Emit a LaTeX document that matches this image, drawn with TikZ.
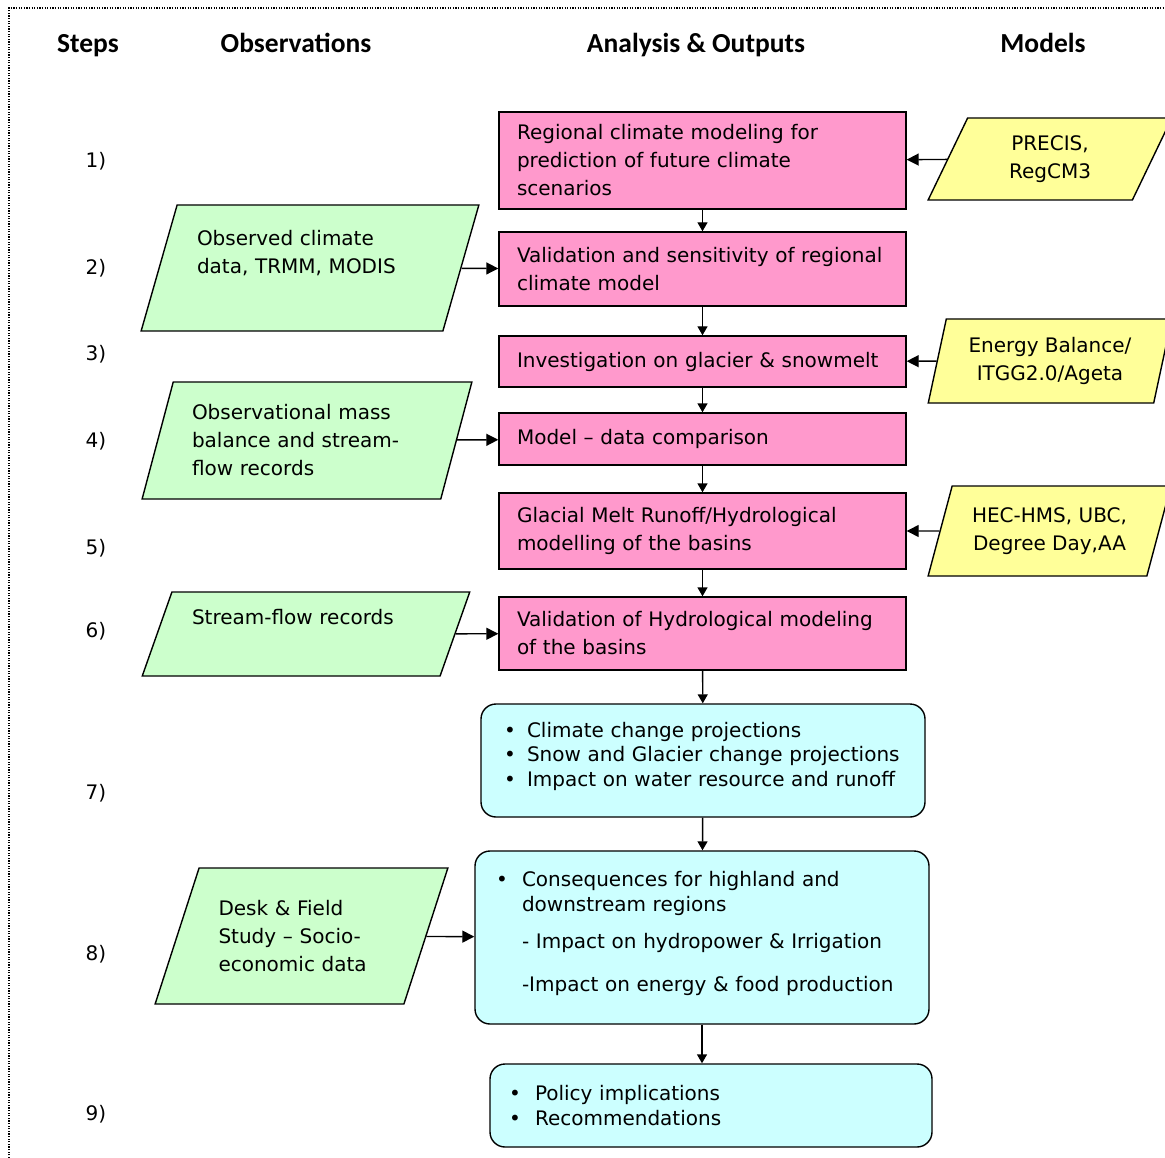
\documentclass[tikz,border=0pt]{standalone}
\usepackage{fontspec}
\setmainfont{DejaVu Sans}
\newfontfamily\headfont{Carlito}
\usetikzlibrary{shapes.geometric,arrows.meta}

\definecolor{pinkF}{HTML}{FF99CC}
\definecolor{greenF}{HTML}{CCFFCC}
\definecolor{yellowF}{HTML}{FFFF99}
\definecolor{cyanF}{HTML}{CCFFFF}
\newcommand{\itemDot}[1]{\makebox[#1pt][l]{\textbullet}}

\begin{document}
\begin{tikzpicture}[
    x=1pt, y=-1pt, line width=1.4pt,
    every node/.style={font=\fontsize{20}{28}\selectfont},
    head/.style={anchor=base, font=\headfont\bfseries\fontsize{27.5}{33}\selectfont},
    stepNum/.style={font=\fontsize{20}{28}\selectfont},
    outBox/.style={rectangle, draw, fill=pinkF, minimum width=407pt, text width=371pt, inner xsep=0pt, align=left},
    resBox/.style={rectangle, draw, fill=cyanF, rounded corners=15pt, inner xsep=0pt, align=left, font=\fontsize{20}{24.5}\selectfont},
    obsBox/.style={trapezium, trapezium stretches=true, draw, fill=greenF, inner xsep=0pt, align=left},
    modBox/.style={trapezium, trapezium stretches=true, draw, fill=yellowF, inner xsep=0pt, align=center},
    flow/.style={-{Triangle[length=9pt,width=10pt]}},
    feed/.style={-{Triangle[length=12pt,width=12pt]}}
]
    \useasboundingbox (0,0) rectangle (1165,1158);
    \draw[line width=1.3pt, dash pattern=on 1.3pt off 1.3pt] (9,1158) -- (9,8) -- (1165,8);

    \node[head] (hSteps) at (88,53) {Steps};
    \node[head] (hObs) at (296,53) {Observations};
    \node[head] (hAna) at (696,53) {Analysis \& Outputs};
    \node[head] (hMod) at (1043,53) {Models};

    \foreach \n/\y in {1/161, 2/268, 3/354, 4/441, 5/548, 6/631, 7/793, 8/954, 9/1114}
        \node[stepNum] (s\n) at (96,\y) {\n)};

    \node[outBox, minimum height=97pt] (clim) at (702.5,160.5) {Regional climate modeling for\\prediction of future climate\\scenarios};
    \node[outBox, minimum height=74pt] (valid) at (702.5,269) {Validation and sensitivity of regional\\climate model};
    \node[outBox, minimum height=51pt] (glac) at (702.5,361.5) {Investigation on glacier \& snowmelt};
    \node[outBox, minimum height=52pt] (comp) at (702.5,439) {Model \textendash{} data comparison};
    \node[outBox, minimum height=76pt] (runoff) at (702.5,531) {Glacial Melt Runoff/Hydrological\\modelling of the basins};
    \node[outBox, minimum height=73pt] (hydro) at (702.5,633.5) {Validation of Hydrological modeling\\of the basins};

    \node[resBox, minimum width=444pt, minimum height=113pt, text width=398pt] (proj) at (703,760.5)
        {\itemDot{23}Climate change projections\\\itemDot{23}Snow and Glacier change projections\\\itemDot{23}Impact on water resource and runoff\\[-12pt]\mbox{}};
    \node[resBox, minimum width=454pt, minimum height=173pt, text width=412pt] (cons) at (702,937.5)
        {\itemDot{26}Consequences for highland and\\\hspace*{26pt}downstream regions\\[12.5pt]\hspace*{26pt}- Impact on hydropower \& Irrigation\\[18.5pt]\hspace*{26pt}-Impact on energy \& food production\\[-12pt]\mbox{}};
    \node[resBox, minimum width=442pt, minimum height=83pt, text width=404pt] (pol) at (711,1105.5)
        {\itemDot{26}Policy implications\\\itemDot{26}Recommendations};

    \node[obsBox, trapezium left angle=69.5, trapezium right angle=110.5, minimum width=338pt, minimum height=126pt, text width=226pt] (obs1) at (310,268) {Observed climate\\data, TRMM, MODIS\\[4pt]\mbox{}};
    \node[obsBox, trapezium left angle=71.1, trapezium right angle=108.9, minimum width=330pt, minimum height=117pt, text width=230pt] (obs2) at (307,440.5) {Observational mass\\balance and stream-\\flow records};
    \node[obsBox, trapezium left angle=65.7, trapezium right angle=114.3, minimum width=328pt, minimum height=84pt, text width=228pt] (obs3) at (306,634) {Stream-flow records\\[6pt]\mbox{}};
    \node[obsBox, trapezium left angle=65.5, trapezium right angle=114.5, minimum width=293pt, minimum height=136pt, text width=166pt] (obs4) at (301.5,936) {Desk \& Field\\Study \textendash{} Socio-\\economic data};

    \node[modBox, trapezium left angle=69.9, trapezium right angle=110.1, minimum width=244pt, minimum height=82pt] (mod1) at (1050,159) {PRECIS,\\RegCM3};
    \node[modBox, trapezium left angle=75.3, trapezium right angle=104.7, minimum width=244pt, minimum height=84pt] (mod2) at (1050,361) {Energy Balance/\\ITGG2.0/Ageta};
    \node[modBox, trapezium left angle=70.4, trapezium right angle=109.6, minimum width=243pt, minimum height=90pt] (mod3) at (1049.5,531) {HEC-HMS, UBC,\\Degree Day,AA};

    \draw[flow] (clim) -- (valid);
    \draw[flow] (valid) -- (glac);
    \draw[flow] (glac) -- (comp);
    \draw[flow] (comp) -- (runoff);
    \draw[flow] (runoff) -- (hydro);
    \draw[flow] (hydro) -- (proj);
    \draw[flow] (proj) -- (cons);
    \draw[flow] (cons.south) -- (cons.south |- pol.north);

    \draw[feed] (obs1) -- (valid);
    \draw[feed] (obs2) -- (comp);
    \draw[feed] (obs3) -- (hydro);
    \draw[feed] (obs4) -- (cons);
    \draw[feed] (mod1) -- (clim);
    \draw[feed] (mod2) -- (glac);
    \draw[feed] (mod3) -- (runoff);
\end{tikzpicture}
\end{document}
